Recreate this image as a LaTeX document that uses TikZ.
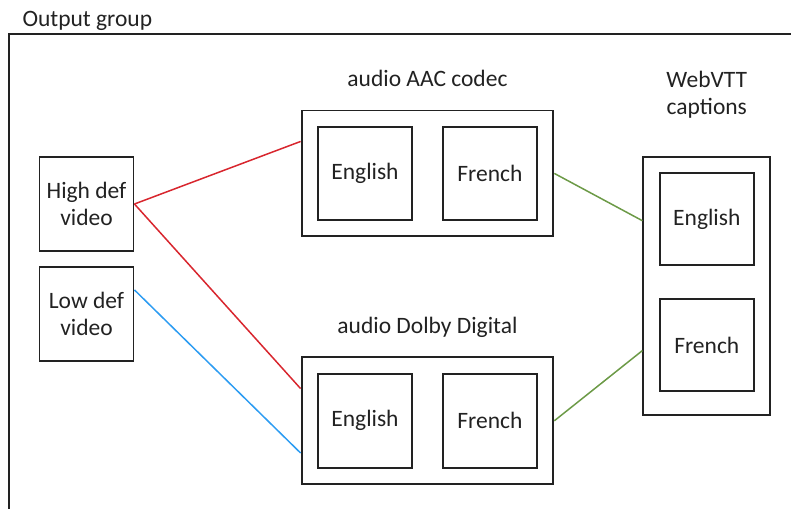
\documentclass[tikz,border=0pt]{standalone}
\usepackage{fontspec}
\setmainfont{Carlito}
\usepackage{xcolor}
\usepackage{tikz}
\usetikzlibrary{positioning,fit,calc}
\definecolor{GroupInk}{HTML}{222222}
\definecolor{HdRed}{HTML}{D8262E}
\definecolor{LdBlue}{HTML}{2C9CF2}
\definecolor{CapGreen}{HTML}{6C9A47}
\tikzset{
  stream/.style={draw=GroupInk, line width=1.9pt, align=center, inner sep=0pt,
    minimum width=94pt, minimum height=93pt},
  bundle/.style={draw=GroupInk, line width=1.9pt, inner sep=15.5pt},
  bundletitle/.style={align=center, text depth=0pt},
  wire/.style={line width=1.5pt},
  hdwire/.style={wire, draw=HdRed},
  ldwire/.style={wire, draw=LdBlue},
  capwire/.style={wire, draw=CapGreen}
}

\begin{document}
\begin{tikzpicture}[font=\fontsize{23.5}{26.5}\selectfont, text=GroupInk, node distance=14pt]
  \useasboundingbox (0,0) rectangle (791pt,-508pt);
  \clip (0,0) rectangle (791pt,-508pt);
  % output group frame runs off the page on the right and at the bottom
  \node[draw=GroupInk, line width=1.9pt, anchor=north west, minimum width=820pt,
    minimum height=520pt] (outgroup) at (8pt,-33pt) {};
  \node[anchor=base west, xshift=11pt, yshift=6pt] (grouplabel) at (outgroup.north west) {Output group};

  % video
  \node[stream, minimum height=94pt] (highdef) at (86.5pt,-204pt) {High def\\video};
  \node[stream, minimum height=94pt, below=of highdef] (lowdef) {Low def\\video};

  % audio AAC codec
  \node[stream] (aacen) at (365pt,-173.4pt) {English};
  \node[stream, right=29pt of aacen] (aacfr) {French};
  \node[bundle, fit=(aacen)(aacfr)] (aac) {};
  \node[bundletitle, above=19pt of aac] (aactitle) {audio AAC codec};

  % audio Dolby Digital
  \node[stream, minimum height=94pt] (dden) at (365pt,-420.8pt) {English};
  \node[stream, minimum height=94pt, right=29pt of dden] (ddfr) {French};
  \node[bundle, fit=(dden)(ddfr)] (dd) {};
  \node[bundletitle, above=19pt of dd] (ddtitle) {audio Dolby Digital};

  % WebVTT captions
  \node[stream, minimum height=92pt] (vtten) at (706.8pt,-219.2pt) {English};
  \node[stream, minimum height=92pt, below=32pt of vtten] (vttfr) {French};
  \coordinate[below=7pt of vttfr.south] (vttfoot);
  \node[bundle, fit=(vtten)(vttfr)(vttfoot)] (vtt) {};
  \node[bundletitle, above=38pt of vtt] (vtttitle) {WebVTT\\captions};

  \draw[hdwire] (highdef.east) -- ($(aac.north west)!0.25!(aac.south west)$);
  \draw[hdwire] (highdef.east) -- ($(dd.north west)!0.25!(dd.south west)$);
  \draw[ldwire] ($(lowdef.north east)!0.25!(lowdef.south east)$) -- ($(dd.north west)!0.75!(dd.south west)$);
  \draw[capwire] (aac.east) -- ($(vtt.north west)!0.25!(vtt.south west)$);
  \draw[capwire] (dd.east) -- ($(vtt.north west)!0.75!(vtt.south west)$);
\end{tikzpicture}
\end{document}
